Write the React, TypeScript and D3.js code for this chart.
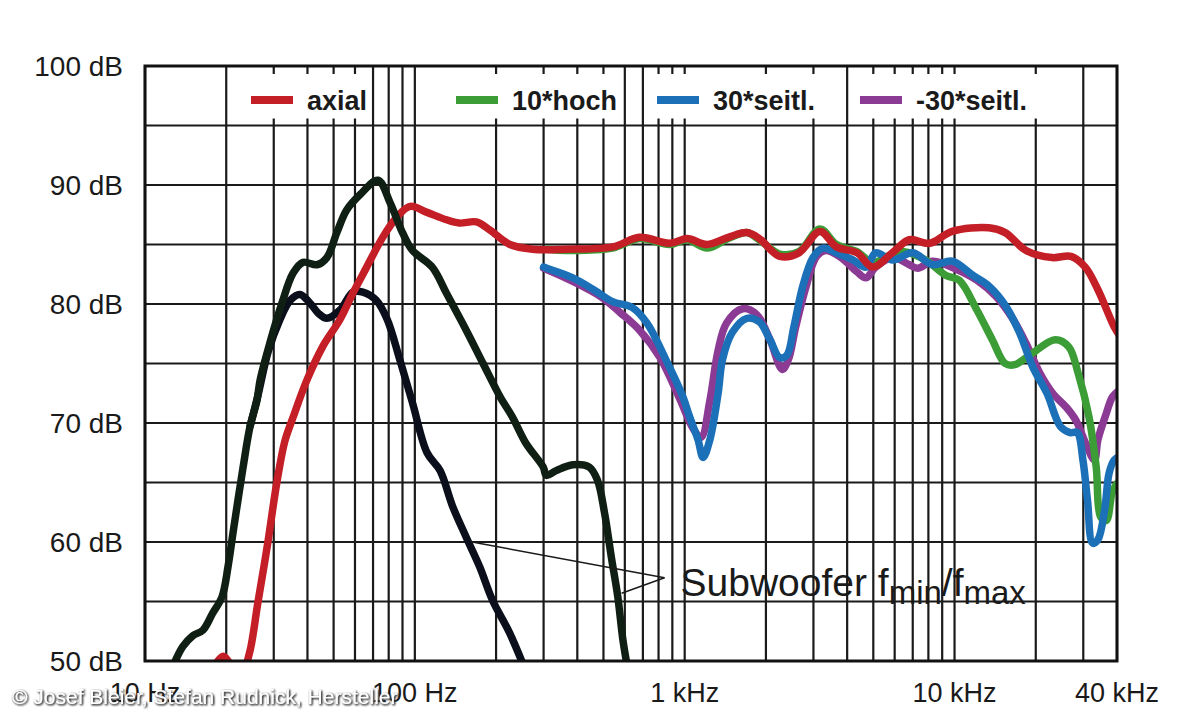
import React from "react";
import * as d3 from "d3";

// frequency response, [Hz, dB]
const axial: [number, number][] = [
  [18, 49.5], [19.5, 50.4], [21, 49.6], [23, 49.2], [24.4, 50.7], [26.2, 54.9], [28.5, 59.9],
  [30.8, 65], [33, 68.5], [35.4, 70.5], [39.8, 73.6], [45.5, 76.4], [52.8, 78.7], [58.9, 80.9],
  [66.3, 83.1], [76, 85.6], [85.8, 87.3], [96, 88.2], [111, 87.7], [130, 87.1], [146, 86.8],
  [169, 86.9], [190, 86.2], [225, 85], [273, 84.6], [365, 84.6], [541, 84.8], [680, 85.6],
  [880, 85.1], [1020, 85.5], [1210, 85], [1450, 85.6], [1700, 86], [1890, 85.5], [2250, 84],
  [2650, 84.3], [3170, 86.1], [3650, 84.8], [4350, 84.3], [4970, 83.1], [5880, 84.3],
  [6800, 85.4], [8080, 85.1], [9800, 86.1], [13400, 86.4], [15400, 86], [18400, 84.5],
  [23000, 83.9], [27000, 84], [30500, 83.1], [34000, 81.2], [39000, 78.1], [41000, 77.3],
];

const hoch10: [number, number][] = [
  [310, 84.6], [365, 84.5], [541, 84.7], [680, 85.5], [880, 85], [1020, 85.4], [1210, 84.7],
  [1450, 85.5], [1700, 86], [1890, 85.4], [2250, 84.2], [2650, 84.4], [3170, 86.3], [3650, 85],
  [4350, 84.4], [4970, 83.5], [5880, 84.2], [6500, 84.4], [7800, 83.7], [9300, 82.4],
  [10400, 82], [12100, 79.5], [13800, 77], [15400, 75], [16700, 74.9], [19000, 75.7],
  [23600, 77], [26500, 76.4], [28700, 74.2], [31500, 70.5], [33500, 66.3], [34800, 62.1],
  [36500, 61.8], [38300, 64.1], [39200, 64.6], [41000, 65.2],
];

const seitl30: [number, number][] = [
  [300, 83.1], [308, 83], [385, 82.2], [460, 81.2], [540, 80.2], [640, 79.7], [725, 78.4],
  [865, 75], [985, 72.2], [1040, 70.6], [1120, 68.6], [1170, 67.1], [1240, 68.6], [1330, 72.5],
  [1380, 75.3], [1500, 77.6], [1700, 78.8], [1890, 78.5], [2070, 77], [2250, 75.5], [2390, 75.7],
  [2540, 78.1], [2740, 81.5], [2990, 83.9], [3250, 84.7], [3640, 84.3], [4200, 83.7],
  [4700, 83.1], [5100, 84.3], [5900, 83.7], [7000, 84.3], [8300, 83.3], [9800, 83.6],
  [11700, 82.4], [13400, 81.5], [15500, 79.8], [17400, 77.6], [19500, 74.7], [22000, 72.5],
  [24700, 69.7], [26800, 69.2], [28500, 69.2], [29900, 66.9], [31100, 63.5], [32500, 59.9],
  [34000, 60.2], [36000, 62.7], [37400, 65.8], [39100, 66.9], [41000, 67.2],
];

const seitlMinus30: [number, number][] = [
  [300, 83], [308, 82.9], [385, 81.9], [490, 80.6], [575, 79.3], [680, 77.8], [810, 75.5],
  [960, 72], [1070, 69.6], [1150, 68.8], [1240, 71.9], [1330, 76.1], [1430, 78.4], [1640, 79.6],
  [1850, 79.1], [2070, 77], [2300, 74.5], [2420, 75.3], [2580, 78.1], [2820, 81.5], [3080, 84],
  [3340, 84.5], [3800, 83.9], [4350, 82.7], [4700, 82.2], [5100, 83.1], [5900, 83.9],
  [6800, 83.3], [7300, 83], [8300, 83.6], [10200, 82.9], [12100, 82], [14300, 80.6],
  [16500, 78.7], [18400, 76.7], [20700, 74.2], [23100, 72.5], [26000, 71.3], [28200, 70.2],
  [30600, 68.3], [33000, 66.9], [34000, 68.6], [36500, 70.8], [38500, 72.2], [41000, 72.8],
];

// subwoofer curves
const subMax: [number, number][] = [
  [12.6, 49.4], [13.8, 51.2], [15, 52.1], [16.4, 52.6], [17.8, 54], [19.3, 55.4], [20.3, 57.9],
  [21.2, 60.8], [22.1, 63.5], [23.1, 66.3], [24.5, 69.7], [26, 71.9], [26.7, 73.6], [29, 76.7],
  [32.2, 80.1], [35.4, 82.6], [38.5, 83.5], [43.4, 83.3], [47.2, 83.9], [51.4, 86], [55.9, 87.9],
  [62.7, 89.2], [73, 90.4], [81, 88.5], [90, 86], [98, 84.5], [116, 83.1], [131, 80.9],
  [155, 77.8], [179, 75], [207, 72.2], [230, 70.5], [258, 68.3], [299, 66.3], [307, 65.6],
  [334, 66], [385, 66.5], [443, 66.3], [475, 65.2], [505, 62.4], [535, 58.7], [565, 55.4],
  [590, 51.8], [612, 49.6],
];

const subMin: [number, number][] = [
  [24.5, 69.7], [26.2, 72.3], [28.6, 76], [31.5, 78.6], [34.5, 80.3], [37.5, 80.8], [40.8, 80.1],
  [44, 79.2], [47.2, 78.8], [52.8, 79.5], [59, 81], [64.2, 81], [72, 80.3], [79, 78.7],
  [88, 75.3], [98, 71.7], [111, 67.5], [124, 66], [138, 63], [155, 60.4], [174, 57.9],
  [194, 55.1], [224, 52.4], [253, 49.6],
];

const legendLabels = ["axial", "10*hoch", "30*seitl.", "-30*seitl."];
const yTickValues = [50, 60, 70, 80, 90, 100];
const xLabelFreqs = [10, 100, 1000, 10000, 40000];
const xLabelTexts = ["10 Hz", "100 Hz", "1 kHz", "10 kHz", "40 kHz"];

const W = 1200;
const H = 720;
const left = 145;
const right = 1117;
const top = 66;
const bottom = 661;

const RED = "#c41e26";
const GREEN = "#3c9c36";
const BLUE = "#1c70b8";
const PURPLE = "#8b3b94";
const SUBMAX = "#0f1f14";
const SUBMIN = "#0b0e1b";
const INK = "#1a1a1a";
const FONT = "'Liberation Sans', Arial, Helvetica, sans-serif";

// legend slots: white box [x0, x1], swatch start
const legendBoxes = [[235, 366], [445, 616], [650, 834], [855, 1062]];
const legendSwatchX = [251, 456, 657, 860];
const legendColors = [RED, GREEN, BLUE, PURPLE];

export default function App() {
  const x = d3.scaleLog().domain([10, 40000]).range([left, right]);
  const y = d3.scaleLinear().domain([50, 100]).range([bottom, top]);

  const line = d3
    .line<[number, number]>()
    .x((d) => x(d[0]))
    .y((d) => y(d[1]))
    .curve(d3.curveCatmullRom.alpha(0.5));

  const xGrid = x.ticks();
  const yGrid = y.ticks(10);

  const curves: { data: [number, number][]; color: string }[] = [
    { data: subMin, color: SUBMIN },
    { data: seitlMinus30, color: PURPLE },
    { data: hoch10, color: GREEN },
    { data: seitl30, color: BLUE },
    { data: axial, color: RED },
    { data: subMax, color: SUBMAX },
  ];

  // annotation anchors
  const apex: [number, number] = [842, 57];
  const onMin: [number, number] = [163, 60];
  const onMax: [number, number] = [584, 55.7];

  return (
    <svg
      width={W}
      height={H}
      style={{ position: "absolute", left: 0, top: 0, background: "#fff" }}
      fontFamily={FONT}
    >
      <defs>
        <clipPath id="plot">
          <rect x={left} y={top} width={right - left} height={bottom - top} />
        </clipPath>
        <filter id="emboss" x="-5%" y="-30%" width="110%" height="160%">
          <feGaussianBlur in="SourceAlpha" stdDeviation="1.3" result="b" />
          <feOffset in="b" dx="1" dy="1" result="o" />
          <feFlood floodColor="#3a3a3a" />
          <feComposite in2="o" operator="in" result="s" />
          <feMerge>
            <feMergeNode in="s" />
            <feMergeNode in="s" />
            <feMergeNode in="SourceGraphic" />
          </feMerge>
        </filter>
      </defs>
      <rect width={W} height={H} fill="#fff" />

      {/* grid */}
      <g stroke={INK} strokeWidth={2.2}>
        {xGrid.map((f) => (
          <line key={"gx" + f} x1={x(f)} x2={x(f)} y1={top} y2={bottom} />
        ))}
        {yGrid
          .filter((v) => v < 100 && v > 50)
          .map((v) => (
            <line key={"gy" + v} x1={left} x2={right} y1={y(v)} y2={y(v)} />
          ))}
      </g>

      {/* legend boxes knock out the grid in the top row */}
      {legendBoxes.map((b, i) => (
        <rect key={"lb" + i} x={b[0]} y={top + 8} width={b[1] - b[0]} height={y(95) - top - 15} fill="#fff" />
      ))}

      {/* curves */}
      <g clipPath="url(#plot)" fill="none" strokeLinejoin="round" strokeLinecap="round">
        {curves.map((c, i) => (
          <path key={"c" + i} d={line(c.data) || ""} stroke={c.color} strokeWidth={7.5} />
        ))}
      </g>

      {/* frame */}
      <rect x={left} y={top} width={right - left} height={bottom - top} fill="none" stroke="#111" strokeWidth={3} />

      {/* legend */}
      {legendLabels.map((lab, i) => (
        <g key={"lg" + i}>
          <line
            x1={legendSwatchX[i]}
            x2={legendSwatchX[i] + 42}
            y1={100}
            y2={100}
            stroke={legendColors[i]}
            strokeWidth={8}
          />
          <text x={legendSwatchX[i] + 56} y={110} fontSize={27} fontWeight="bold" fill={INK}>
            {lab}
          </text>
        </g>
      ))}

      {/* y labels */}
      {yTickValues.map((v) => (
        <text key={"yl" + v} x={123} y={y(v)} dy="0.36em" fontSize={28} textAnchor="end" fill={INK}>
          {v} dB
        </text>
      ))}

      {/* x labels */}
      {xLabelFreqs.map((f, i) => (
        <text key={"xl" + f} x={x(f)} y={702} fontSize={27} textAnchor="middle" fill={INK}>
          {xLabelTexts[i]}
        </text>
      ))}

      {/* annotation */}
      <g stroke={INK} strokeWidth={1.5}>
        <line x1={x(onMin[0])} y1={y(onMin[1])} x2={x(apex[0])} y2={y(apex[1])} />
        <line x1={x(onMax[0])} y1={y(onMax[1])} x2={x(apex[0])} y2={y(apex[1])} />
      </g>
      <text x={x(apex[0]) + 16} y={596} fontSize={39} fill={INK}>
        Subwoofer f
        <tspan fontSize={33} dy={8}>min</tspan>
        <tspan dy={-8}>/f</tspan>
        <tspan fontSize={33} dy={8}>max</tspan>
      </text>

      {/* credit */}
      <text x={12} y={704} fontSize={21} fill="#fff" filter="url(#emboss)">
        © Josef Bleier, Stefan Rudnick, Hersteller
      </text>
    </svg>
  );
}
